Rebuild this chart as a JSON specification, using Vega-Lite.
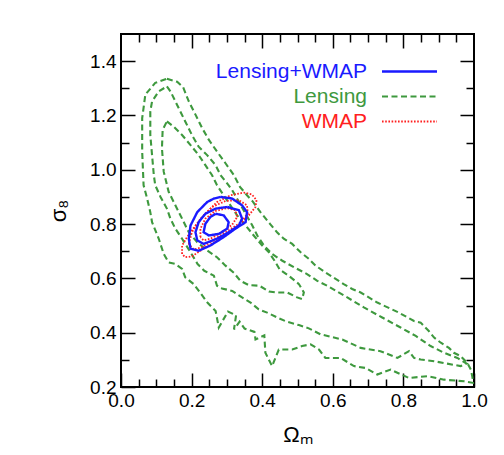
{
  "$schema": "https://vega.github.io/schema/vega-lite/v6.json",
  "width": 353,
  "height": 353,
  "autosize": {"type": "none"},
  "padding": {"left": 121, "top": 34, "right": 30, "bottom": 68},
  "background": "white",
  "config": {
    "view": {"stroke": "black", "strokeWidth": 2},
    "axis": {"domain": false, "grid": false, "tickColor": "black", "tickWidth": 1.5, "labelFont": "Liberation Sans", "labelFontSize": 19, "labelColor": "black", "labelFlush": false, "labelOverlap": false, "titleFont": "Liberation Sans", "titleFontSize": 22, "titleColor": "black", "titleFontWeight": "normal"}
  },
  "datasets": {
    "contours": [
      {"s":"Lensing","c":"L1","i":0,"om":0.130,"sg":1.335},{"s":"Lensing","c":"L1","i":1,"om":0.159,"sg":1.324},{"s":"Lensing","c":"L1","i":2,"om":0.176,"sg":1.304},{"s":"Lensing","c":"L1","i":3,"om":0.192,"sg":1.252},{"s":"Lensing","c":"L1","i":4,"om":0.211,"sg":1.203},{"s":"Lensing","c":"L1","i":5,"om":0.230,"sg":1.153},{"s":"Lensing","c":"L1","i":6,"om":0.249,"sg":1.110},{"s":"Lensing","c":"L1","i":7,"om":0.272,"sg":1.067},{"s":"Lensing","c":"L1","i":8,"om":0.296,"sg":1.024},{"s":"Lensing","c":"L1","i":9,"om":0.320,"sg":0.980},{"s":"Lensing","c":"L1","i":10,"om":0.337,"sg":0.937},{"s":"Lensing","c":"L1","i":11,"om":0.357,"sg":0.906},{"s":"Lensing","c":"L1","i":12,"om":0.374,"sg":0.882},{"s":"Lensing","c":"L1","i":13,"om":0.395,"sg":0.844},{"s":"Lensing","c":"L1","i":14,"om":0.422,"sg":0.801},{"s":"Lensing","c":"L1","i":15,"om":0.442,"sg":0.770},{"s":"Lensing","c":"L1","i":16,"om":0.461,"sg":0.746},{"s":"Lensing","c":"L1","i":17,"om":0.485,"sg":0.727},{"s":"Lensing","c":"L1","i":18,"om":0.509,"sg":0.696},{"s":"Lensing","c":"L1","i":19,"om":0.532,"sg":0.672},{"s":"Lensing","c":"L1","i":20,"om":0.551,"sg":0.647},{"s":"Lensing","c":"L1","i":21,"om":0.579,"sg":0.622},{"s":"Lensing","c":"L1","i":22,"om":0.608,"sg":0.598},{"s":"Lensing","c":"L1","i":23,"om":0.631,"sg":0.579},{"s":"Lensing","c":"L1","i":24,"om":0.655,"sg":0.561},{"s":"Lensing","c":"L1","i":25,"om":0.679,"sg":0.548},{"s":"Lensing","c":"L1","i":26,"om":0.726,"sg":0.511},{"s":"Lensing","c":"L1","i":27,"om":0.787,"sg":0.474},{"s":"Lensing","c":"L1","i":28,"om":0.830,"sg":0.443},{"s":"Lensing","c":"L1","i":29,"om":0.849,"sg":0.437},{"s":"Lensing","c":"L1","i":30,"om":0.872,"sg":0.406},{"s":"Lensing","c":"L1","i":31,"om":0.887,"sg":0.382},{"s":"Lensing","c":"L1","i":32,"om":0.906,"sg":0.363},{"s":"Lensing","c":"L1","i":33,"om":0.929,"sg":0.344},{"s":"Lensing","c":"L1","i":34,"om":0.943,"sg":0.326},{"s":"Lensing","c":"L1","i":35,"om":0.962,"sg":0.314},{"s":"Lensing","c":"L1","i":36,"om":0.981,"sg":0.289},{"s":"Lensing","c":"L1","i":37,"om":0.991,"sg":0.264},{"s":"Lensing","c":"L1","i":38,"om":0.995,"sg":0.240},{"s":"Lensing","c":"L1","i":39,"om":0.998,"sg":0.215},{"s":"Lensing","c":"L1","i":40,"om":0.972,"sg":0.221},{"s":"Lensing","c":"L1","i":41,"om":0.915,"sg":0.227},{"s":"Lensing","c":"L1","i":42,"om":0.868,"sg":0.240},{"s":"Lensing","c":"L1","i":43,"om":0.816,"sg":0.233},{"s":"Lensing","c":"L1","i":44,"om":0.764,"sg":0.264},{"s":"Lensing","c":"L1","i":45,"om":0.726,"sg":0.246},{"s":"Lensing","c":"L1","i":46,"om":0.693,"sg":0.270},{"s":"Lensing","c":"L1","i":47,"om":0.660,"sg":0.277},{"s":"Lensing","c":"L1","i":48,"om":0.622,"sg":0.307},{"s":"Lensing","c":"L1","i":49,"om":0.579,"sg":0.307},{"s":"Lensing","c":"L1","i":50,"om":0.561,"sg":0.338},{"s":"Lensing","c":"L1","i":51,"om":0.537,"sg":0.357},{"s":"Lensing","c":"L1","i":52,"om":0.513,"sg":0.351},{"s":"Lensing","c":"L1","i":53,"om":0.485,"sg":0.338},{"s":"Lensing","c":"L1","i":54,"om":0.447,"sg":0.338},{"s":"Lensing","c":"L1","i":55,"om":0.428,"sg":0.277},{"s":"Lensing","c":"L1","i":56,"om":0.409,"sg":0.326},{"s":"Lensing","c":"L1","i":57,"om":0.406,"sg":0.390},{"s":"Lensing","c":"L1","i":58,"om":0.381,"sg":0.375},{"s":"Lensing","c":"L1","i":59,"om":0.378,"sg":0.403},{"s":"Lensing","c":"L1","i":60,"om":0.350,"sg":0.415},{"s":"Lensing","c":"L1","i":61,"om":0.336,"sg":0.441},{"s":"Lensing","c":"L1","i":62,"om":0.320,"sg":0.412},{"s":"Lensing","c":"L1","i":63,"om":0.326,"sg":0.464},{"s":"Lensing","c":"L1","i":64,"om":0.303,"sg":0.478},{"s":"Lensing","c":"L1","i":65,"om":0.277,"sg":0.419},{"s":"Lensing","c":"L1","i":66,"om":0.268,"sg":0.480},{"s":"Lensing","c":"L1","i":67,"om":0.246,"sg":0.509},{"s":"Lensing","c":"L1","i":68,"om":0.225,"sg":0.546},{"s":"Lensing","c":"L1","i":69,"om":0.206,"sg":0.579},{"s":"Lensing","c":"L1","i":70,"om":0.182,"sg":0.604},{"s":"Lensing","c":"L1","i":71,"om":0.173,"sg":0.635},{"s":"Lensing","c":"L1","i":72,"om":0.154,"sg":0.653},{"s":"Lensing","c":"L1","i":73,"om":0.135,"sg":0.659},{"s":"Lensing","c":"L1","i":74,"om":0.121,"sg":0.690},{"s":"Lensing","c":"L1","i":75,"om":0.107,"sg":0.746},{"s":"Lensing","c":"L1","i":76,"om":0.088,"sg":0.807},{"s":"Lensing","c":"L1","i":77,"om":0.083,"sg":0.844},{"s":"Lensing","c":"L1","i":78,"om":0.074,"sg":0.894},{"s":"Lensing","c":"L1","i":79,"om":0.064,"sg":0.943},{"s":"Lensing","c":"L1","i":80,"om":0.060,"sg":1.067},{"s":"Lensing","c":"L1","i":81,"om":0.060,"sg":1.190},{"s":"Lensing","c":"L1","i":82,"om":0.069,"sg":1.277},{"s":"Lensing","c":"L1","i":83,"om":0.097,"sg":1.320},{"s":"Lensing","c":"L1","i":84,"om":0.130,"sg":1.335},
      {"s":"Lensing","c":"L2","i":0,"om":0.130,"sg":1.307},{"s":"Lensing","c":"L2","i":1,"om":0.140,"sg":1.289},{"s":"Lensing","c":"L2","i":2,"om":0.154,"sg":1.252},{"s":"Lensing","c":"L2","i":3,"om":0.168,"sg":1.215},{"s":"Lensing","c":"L2","i":4,"om":0.182,"sg":1.178},{"s":"Lensing","c":"L2","i":5,"om":0.201,"sg":1.128},{"s":"Lensing","c":"L2","i":6,"om":0.220,"sg":1.085},{"s":"Lensing","c":"L2","i":7,"om":0.244,"sg":1.054},{"s":"Lensing","c":"L2","i":8,"om":0.268,"sg":1.017},{"s":"Lensing","c":"L2","i":9,"om":0.282,"sg":0.980},{"s":"Lensing","c":"L2","i":10,"om":0.299,"sg":0.953},{"s":"Lensing","c":"L2","i":11,"om":0.315,"sg":0.925},{"s":"Lensing","c":"L2","i":12,"om":0.334,"sg":0.882},{"s":"Lensing","c":"L2","i":13,"om":0.353,"sg":0.838},{"s":"Lensing","c":"L2","i":14,"om":0.372,"sg":0.795},{"s":"Lensing","c":"L2","i":15,"om":0.386,"sg":0.758},{"s":"Lensing","c":"L2","i":16,"om":0.405,"sg":0.721},{"s":"Lensing","c":"L2","i":17,"om":0.428,"sg":0.690},{"s":"Lensing","c":"L2","i":18,"om":0.457,"sg":0.665},{"s":"Lensing","c":"L2","i":19,"om":0.490,"sg":0.641},{"s":"Lensing","c":"L2","i":20,"om":0.527,"sg":0.616},{"s":"Lensing","c":"L2","i":21,"om":0.556,"sg":0.591},{"s":"Lensing","c":"L2","i":22,"om":0.584,"sg":0.573},{"s":"Lensing","c":"L2","i":23,"om":0.641,"sg":0.530},{"s":"Lensing","c":"L2","i":24,"om":0.688,"sg":0.493},{"s":"Lensing","c":"L2","i":25,"om":0.740,"sg":0.456},{"s":"Lensing","c":"L2","i":26,"om":0.792,"sg":0.419},{"s":"Lensing","c":"L2","i":27,"om":0.835,"sg":0.388},{"s":"Lensing","c":"L2","i":28,"om":0.877,"sg":0.351},{"s":"Lensing","c":"L2","i":29,"om":0.915,"sg":0.326},{"s":"Lensing","c":"L2","i":30,"om":0.953,"sg":0.307},{"s":"Lensing","c":"L2","i":31,"om":0.979,"sg":0.286},{"s":"Lensing","c":"L2","i":32,"om":0.962,"sg":0.277},{"s":"Lensing","c":"L2","i":33,"om":0.924,"sg":0.286},{"s":"Lensing","c":"L2","i":34,"om":0.887,"sg":0.295},{"s":"Lensing","c":"L2","i":35,"om":0.849,"sg":0.301},{"s":"Lensing","c":"L2","i":36,"om":0.830,"sg":0.307},{"s":"Lensing","c":"L2","i":37,"om":0.816,"sg":0.332},{"s":"Lensing","c":"L2","i":38,"om":0.783,"sg":0.307},{"s":"Lensing","c":"L2","i":39,"om":0.735,"sg":0.332},{"s":"Lensing","c":"L2","i":40,"om":0.679,"sg":0.344},{"s":"Lensing","c":"L2","i":41,"om":0.627,"sg":0.375},{"s":"Lensing","c":"L2","i":42,"om":0.565,"sg":0.394},{"s":"Lensing","c":"L2","i":43,"om":0.532,"sg":0.416},{"s":"Lensing","c":"L2","i":44,"om":0.504,"sg":0.428},{"s":"Lensing","c":"L2","i":45,"om":0.471,"sg":0.440},{"s":"Lensing","c":"L2","i":46,"om":0.447,"sg":0.453},{"s":"Lensing","c":"L2","i":47,"om":0.414,"sg":0.474},{"s":"Lensing","c":"L2","i":48,"om":0.390,"sg":0.486},{"s":"Lensing","c":"L2","i":49,"om":0.367,"sg":0.511},{"s":"Lensing","c":"L2","i":50,"om":0.343,"sg":0.530},{"s":"Lensing","c":"L2","i":51,"om":0.315,"sg":0.554},{"s":"Lensing","c":"L2","i":52,"om":0.286,"sg":0.563},{"s":"Lensing","c":"L2","i":53,"om":0.272,"sg":0.573},{"s":"Lensing","c":"L2","i":54,"om":0.263,"sg":0.610},{"s":"Lensing","c":"L2","i":55,"om":0.236,"sg":0.628},{"s":"Lensing","c":"L2","i":56,"om":0.217,"sg":0.653},{"s":"Lensing","c":"L2","i":57,"om":0.197,"sg":0.696},{"s":"Lensing","c":"L2","i":58,"om":0.173,"sg":0.746},{"s":"Lensing","c":"L2","i":59,"om":0.154,"sg":0.783},{"s":"Lensing","c":"L2","i":60,"om":0.140,"sg":0.820},{"s":"Lensing","c":"L2","i":61,"om":0.130,"sg":0.857},{"s":"Lensing","c":"L2","i":62,"om":0.112,"sg":0.900},{"s":"Lensing","c":"L2","i":63,"om":0.097,"sg":0.943},{"s":"Lensing","c":"L2","i":64,"om":0.093,"sg":0.980},{"s":"Lensing","c":"L2","i":65,"om":0.088,"sg":1.054},{"s":"Lensing","c":"L2","i":66,"om":0.083,"sg":1.128},{"s":"Lensing","c":"L2","i":67,"om":0.083,"sg":1.215},{"s":"Lensing","c":"L2","i":68,"om":0.088,"sg":1.252},{"s":"Lensing","c":"L2","i":69,"om":0.107,"sg":1.289},{"s":"Lensing","c":"L2","i":70,"om":0.130,"sg":1.307},
      {"s":"Lensing","c":"L3","i":0,"om":0.130,"sg":1.178},{"s":"Lensing","c":"L3","i":1,"om":0.149,"sg":1.159},{"s":"Lensing","c":"L3","i":2,"om":0.173,"sg":1.128},{"s":"Lensing","c":"L3","i":3,"om":0.197,"sg":1.091},{"s":"Lensing","c":"L3","i":4,"om":0.220,"sg":1.054},{"s":"Lensing","c":"L3","i":5,"om":0.239,"sg":1.017},{"s":"Lensing","c":"L3","i":6,"om":0.258,"sg":0.980},{"s":"Lensing","c":"L3","i":7,"om":0.272,"sg":0.943},{"s":"Lensing","c":"L3","i":8,"om":0.291,"sg":0.906},{"s":"Lensing","c":"L3","i":9,"om":0.310,"sg":0.869},{"s":"Lensing","c":"L3","i":10,"om":0.329,"sg":0.832},{"s":"Lensing","c":"L3","i":11,"om":0.353,"sg":0.795},{"s":"Lensing","c":"L3","i":12,"om":0.376,"sg":0.758},{"s":"Lensing","c":"L3","i":13,"om":0.400,"sg":0.721},{"s":"Lensing","c":"L3","i":14,"om":0.419,"sg":0.696},{"s":"Lensing","c":"L3","i":15,"om":0.435,"sg":0.665},{"s":"Lensing","c":"L3","i":16,"om":0.450,"sg":0.632},{"s":"Lensing","c":"L3","i":17,"om":0.475,"sg":0.610},{"s":"Lensing","c":"L3","i":18,"om":0.504,"sg":0.579},{"s":"Lensing","c":"L3","i":19,"om":0.518,"sg":0.548},{"s":"Lensing","c":"L3","i":20,"om":0.513,"sg":0.524},{"s":"Lensing","c":"L3","i":21,"om":0.499,"sg":0.530},{"s":"Lensing","c":"L3","i":22,"om":0.471,"sg":0.548},{"s":"Lensing","c":"L3","i":23,"om":0.442,"sg":0.548},{"s":"Lensing","c":"L3","i":24,"om":0.419,"sg":0.552},{"s":"Lensing","c":"L3","i":25,"om":0.392,"sg":0.573},{"s":"Lensing","c":"L3","i":26,"om":0.362,"sg":0.575},{"s":"Lensing","c":"L3","i":27,"om":0.338,"sg":0.591},{"s":"Lensing","c":"L3","i":28,"om":0.320,"sg":0.620},{"s":"Lensing","c":"L3","i":29,"om":0.296,"sg":0.647},{"s":"Lensing","c":"L3","i":30,"om":0.272,"sg":0.678},{"s":"Lensing","c":"L3","i":31,"om":0.244,"sg":0.703},{"s":"Lensing","c":"L3","i":32,"om":0.216,"sg":0.733},{"s":"Lensing","c":"L3","i":33,"om":0.192,"sg":0.770},{"s":"Lensing","c":"L3","i":34,"om":0.173,"sg":0.820},{"s":"Lensing","c":"L3","i":35,"om":0.154,"sg":0.869},{"s":"Lensing","c":"L3","i":36,"om":0.135,"sg":0.919},{"s":"Lensing","c":"L3","i":37,"om":0.121,"sg":0.993},{"s":"Lensing","c":"L3","i":38,"om":0.116,"sg":1.079},{"s":"Lensing","c":"L3","i":39,"om":0.118,"sg":1.147},{"s":"Lensing","c":"L3","i":40,"om":0.130,"sg":1.178},
      {"s":"WMAP","c":"R1","i":0,"om":0.173,"sg":0.690},{"s":"WMAP","c":"R1","i":1,"om":0.173,"sg":0.721},{"s":"WMAP","c":"R1","i":2,"om":0.187,"sg":0.752},{"s":"WMAP","c":"R1","i":3,"om":0.211,"sg":0.795},{"s":"WMAP","c":"R1","i":4,"om":0.239,"sg":0.838},{"s":"WMAP","c":"R1","i":5,"om":0.272,"sg":0.881},{"s":"WMAP","c":"R1","i":6,"om":0.310,"sg":0.906},{"s":"WMAP","c":"R1","i":7,"om":0.348,"sg":0.916},{"s":"WMAP","c":"R1","i":8,"om":0.371,"sg":0.909},{"s":"WMAP","c":"R1","i":9,"om":0.384,"sg":0.888},{"s":"WMAP","c":"R1","i":10,"om":0.381,"sg":0.863},{"s":"WMAP","c":"R1","i":11,"om":0.362,"sg":0.832},{"s":"WMAP","c":"R1","i":12,"om":0.334,"sg":0.795},{"s":"WMAP","c":"R1","i":13,"om":0.301,"sg":0.764},{"s":"WMAP","c":"R1","i":14,"om":0.263,"sg":0.733},{"s":"WMAP","c":"R1","i":15,"om":0.225,"sg":0.702},{"s":"WMAP","c":"R1","i":16,"om":0.201,"sg":0.681},{"s":"WMAP","c":"R1","i":17,"om":0.182,"sg":0.678},{"s":"WMAP","c":"R1","i":18,"om":0.173,"sg":0.690},
      {"s":"WMAP","c":"R2","i":0,"om":0.192,"sg":0.727},{"s":"WMAP","c":"R2","i":1,"om":0.201,"sg":0.770},{"s":"WMAP","c":"R2","i":2,"om":0.225,"sg":0.820},{"s":"WMAP","c":"R2","i":3,"om":0.258,"sg":0.863},{"s":"WMAP","c":"R2","i":4,"om":0.296,"sg":0.885},{"s":"WMAP","c":"R2","i":5,"om":0.334,"sg":0.888},{"s":"WMAP","c":"R2","i":6,"om":0.357,"sg":0.869},{"s":"WMAP","c":"R2","i":7,"om":0.359,"sg":0.838},{"s":"WMAP","c":"R2","i":8,"om":0.338,"sg":0.805},{"s":"WMAP","c":"R2","i":9,"om":0.305,"sg":0.777},{"s":"WMAP","c":"R2","i":10,"om":0.267,"sg":0.746},{"s":"WMAP","c":"R2","i":11,"om":0.230,"sg":0.715},{"s":"WMAP","c":"R2","i":12,"om":0.206,"sg":0.706},{"s":"WMAP","c":"R2","i":13,"om":0.192,"sg":0.727},
      {"s":"WMAP","c":"R3","i":0,"om":0.225,"sg":0.752},{"s":"WMAP","c":"R3","i":1,"om":0.225,"sg":0.783},{"s":"WMAP","c":"R3","i":2,"om":0.239,"sg":0.820},{"s":"WMAP","c":"R3","i":3,"om":0.267,"sg":0.848},{"s":"WMAP","c":"R3","i":4,"om":0.301,"sg":0.859},{"s":"WMAP","c":"R3","i":5,"om":0.324,"sg":0.851},{"s":"WMAP","c":"R3","i":6,"om":0.329,"sg":0.826},{"s":"WMAP","c":"R3","i":7,"om":0.315,"sg":0.798},{"s":"WMAP","c":"R3","i":8,"om":0.286,"sg":0.770},{"s":"WMAP","c":"R3","i":9,"om":0.253,"sg":0.746},{"s":"WMAP","c":"R3","i":10,"om":0.234,"sg":0.740},{"s":"WMAP","c":"R3","i":11,"om":0.225,"sg":0.752},
      {"s":"Lensing+WMAP","c":"B1","i":0,"om":0.282,"sg":0.900},{"s":"Lensing+WMAP","c":"B1","i":1,"om":0.315,"sg":0.894},{"s":"Lensing+WMAP","c":"B1","i":2,"om":0.343,"sg":0.869},{"s":"Lensing+WMAP","c":"B1","i":3,"om":0.357,"sg":0.844},{"s":"Lensing+WMAP","c":"B1","i":4,"om":0.353,"sg":0.807},{"s":"Lensing+WMAP","c":"B1","i":5,"om":0.324,"sg":0.783},{"s":"Lensing+WMAP","c":"B1","i":6,"om":0.291,"sg":0.752},{"s":"Lensing+WMAP","c":"B1","i":7,"om":0.253,"sg":0.721},{"s":"Lensing+WMAP","c":"B1","i":8,"om":0.220,"sg":0.702},{"s":"Lensing+WMAP","c":"B1","i":9,"om":0.197,"sg":0.709},{"s":"Lensing+WMAP","c":"B1","i":10,"om":0.192,"sg":0.746},{"s":"Lensing+WMAP","c":"B1","i":11,"om":0.197,"sg":0.795},{"s":"Lensing+WMAP","c":"B1","i":12,"om":0.216,"sg":0.844},{"s":"Lensing+WMAP","c":"B1","i":13,"om":0.244,"sg":0.881},{"s":"Lensing+WMAP","c":"B1","i":14,"om":0.263,"sg":0.894},{"s":"Lensing+WMAP","c":"B1","i":15,"om":0.282,"sg":0.900},
      {"s":"Lensing+WMAP","c":"B2","i":0,"om":0.301,"sg":0.863},{"s":"Lensing+WMAP","c":"B2","i":1,"om":0.334,"sg":0.851},{"s":"Lensing+WMAP","c":"B2","i":2,"om":0.343,"sg":0.820},{"s":"Lensing+WMAP","c":"B2","i":3,"om":0.334,"sg":0.795},{"s":"Lensing+WMAP","c":"B2","i":4,"om":0.305,"sg":0.770},{"s":"Lensing+WMAP","c":"B2","i":5,"om":0.272,"sg":0.746},{"s":"Lensing+WMAP","c":"B2","i":6,"om":0.234,"sg":0.727},{"s":"Lensing+WMAP","c":"B2","i":7,"om":0.216,"sg":0.740},{"s":"Lensing+WMAP","c":"B2","i":8,"om":0.211,"sg":0.770},{"s":"Lensing+WMAP","c":"B2","i":9,"om":0.220,"sg":0.807},{"s":"Lensing+WMAP","c":"B2","i":10,"om":0.239,"sg":0.838},{"s":"Lensing+WMAP","c":"B2","i":11,"om":0.268,"sg":0.857},{"s":"Lensing+WMAP","c":"B2","i":12,"om":0.301,"sg":0.863},
      {"s":"Lensing+WMAP","c":"B3","i":0,"om":0.268,"sg":0.838},{"s":"Lensing+WMAP","c":"B3","i":1,"om":0.291,"sg":0.832},{"s":"Lensing+WMAP","c":"B3","i":2,"om":0.305,"sg":0.807},{"s":"Lensing+WMAP","c":"B3","i":3,"om":0.301,"sg":0.783},{"s":"Lensing+WMAP","c":"B3","i":4,"om":0.277,"sg":0.764},{"s":"Lensing+WMAP","c":"B3","i":5,"om":0.249,"sg":0.758},{"s":"Lensing+WMAP","c":"B3","i":6,"om":0.234,"sg":0.770},{"s":"Lensing+WMAP","c":"B3","i":7,"om":0.239,"sg":0.801},{"s":"Lensing+WMAP","c":"B3","i":8,"om":0.253,"sg":0.826},{"s":"Lensing+WMAP","c":"B3","i":9,"om":0.268,"sg":0.838}
    ]
  },
  "layer": [
    {
      "data": {"name": "contours"},
      "mark": {"type": "line", "clip": true},
      "encoding": {
        "x": {"field": "om", "type": "quantitative", "scale": {"domain": [0, 1], "nice": false, "zero": false},
              "axis": {"orient": "bottom", "values": [0, 0.2, 0.4, 0.6, 0.8, 1.0], "format": ".1f", "tickSize": -14, "labelPadding": 18, "title": "Ωₘ", "titlePadding": 14}},
        "y": {"field": "sg", "type": "quantitative", "scale": {"domain": [0.2, 1.5], "nice": false, "zero": false},
              "axis": {"orient": "left", "values": [0.2, 0.4, 0.6, 0.8, 1.0, 1.2, 1.4], "format": ".1f", "tickSize": -14, "labelPadding": 19, "title": "σ₈", "titlePadding": 19}},
        "color": {"field": "s", "type": "nominal",
                  "scale": {"domain": ["Lensing+WMAP", "Lensing", "WMAP"], "range": ["#1a1aff", "#3e993e", "#ff2020"]},
                  "legend": {"title": null, "orient": "none", "legendX": 278, "legendY": 27, "padding": 0, "symbolType": "M-5,0H5", "symbolSize": 121, "symbolStrokeWidth": 2.5, "rowPadding": 3, "labelFont": "Liberation Sans", "labelFontSize": 21, "labelAlign": "right", "labelOffset": -53, "labelLimit": 0,
                             "encode": {"labels": {"update": {"fill": {"scale": "color", "field": "value"}}}}}},
        "strokeDash": {"field": "s", "type": "nominal",
                       "scale": {"domain": ["Lensing+WMAP", "Lensing", "WMAP"], "range": [[1, 0], [6, 3.5], [1.6, 1.6]]}},
        "strokeWidth": {"field": "s", "type": "nominal",
                        "scale": {"domain": ["Lensing+WMAP", "Lensing", "WMAP"], "range": [2.4, 1.8, 1.8]}, "legend": null},
        "detail": {"field": "c"},
        "order": {"field": "i", "type": "quantitative"}
      }
    },
    {
      "data": {"name": "contours"},
      "mark": {"type": "point", "opacity": 0, "size": 0},
      "encoding": {
        "x": {"field": "om", "type": "quantitative", "scale": {"domain": [0, 1], "nice": false, "zero": false},
              "axis": {"orient": "bottom", "values": [0.05, 0.1, 0.15, 0.25, 0.3, 0.35, 0.45, 0.5, 0.55, 0.65, 0.7, 0.75, 0.85, 0.9, 0.95], "labels": false, "tickSize": -8, "title": null}},
        "y": {"field": "sg", "type": "quantitative", "scale": {"domain": [0.2, 1.5], "nice": false, "zero": false},
              "axis": {"orient": "left", "values": [0.3, 0.5, 0.7, 0.9, 1.1, 1.3], "labels": false, "tickSize": -8, "title": null}}
      }
    },
    {
      "data": {"name": "contours"},
      "mark": {"type": "point", "opacity": 0, "size": 0},
      "encoding": {
        "x": {"field": "om", "type": "quantitative", "scale": {"domain": [0, 1], "nice": false, "zero": false},
              "axis": {"orient": "top", "values": [0.2, 0.4, 0.6, 0.8], "labels": false, "tickSize": -14, "title": null}},
        "y": {"field": "sg", "type": "quantitative", "scale": {"domain": [0.2, 1.5], "nice": false, "zero": false},
              "axis": {"orient": "right", "values": [0.4, 0.6, 0.8, 1.0, 1.2, 1.4], "labels": false, "tickSize": -14, "title": null}}
      }
    },
    {
      "data": {"name": "contours"},
      "mark": {"type": "point", "opacity": 0, "size": 0},
      "encoding": {
        "x": {"field": "om", "type": "quantitative", "scale": {"domain": [0, 1], "nice": false, "zero": false},
              "axis": {"orient": "top", "values": [0.05, 0.1, 0.15, 0.25, 0.3, 0.35, 0.45, 0.5, 0.55, 0.65, 0.7, 0.75, 0.85, 0.9, 0.95], "labels": false, "tickSize": -8, "title": null}},
        "y": {"field": "sg", "type": "quantitative", "scale": {"domain": [0.2, 1.5], "nice": false, "zero": false},
              "axis": {"orient": "right", "values": [0.3, 0.5, 0.7, 0.9, 1.1, 1.3], "labels": false, "tickSize": -8, "title": null}}
      }
    }
  ],
  "resolve": {"axis": {"x": "independent", "y": "independent"}}
}
